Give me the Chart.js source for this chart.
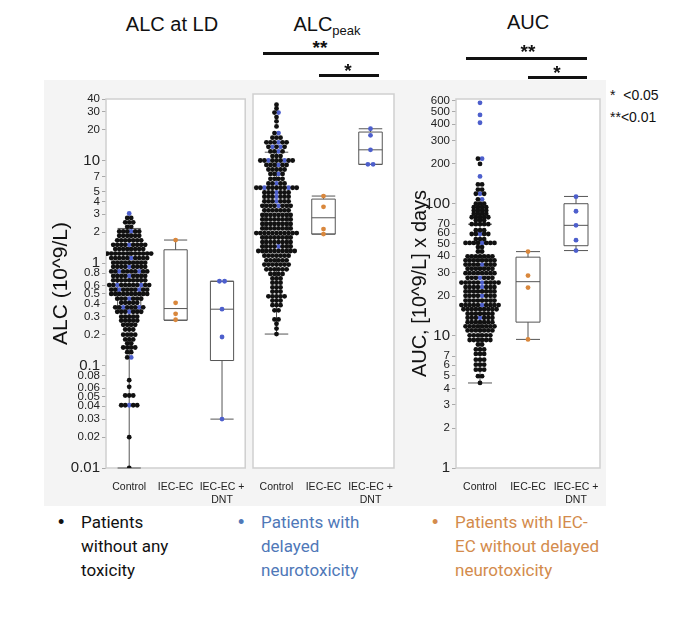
<!DOCTYPE html>
<html>
<head>
<meta charset="utf-8">
<script src="https://cdn.jsdelivr.net/npm/chart.js@4.4.0/dist/chart.umd.min.js"></script>
<style>
  body { margin: 0; width: 680px; height: 625px; position: relative; overflow: hidden; background: #fff;
         font-family: 'Liberation Sans', Arial, sans-serif; color: #111; }
  .abs { position: absolute; }
  #bg { left: 44px; top: 80px; width: 562px; height: 426px; background: #f4f4f4; }
  canvas { position: absolute; }
  .title { font-size: 20px; line-height: 22px; transform: translateX(-50%); white-space: nowrap; }
  .title sub { font-size: 13px; vertical-align: -4px; }
  .bar { height: 3px; background: #111; }
  .star { font-size: 19px; line-height: 18px; font-weight: bold; transform: translateX(-50%); }
  .sig { font-size: 14px; line-height: 18px; white-space: pre; }
  .legend { font-family: Roboto, sans-serif; font-size: 17px; line-height: 24px; }
  .dot { font-size: 18px; line-height: 24px; }
</style>
</head>
<body>
<div id="bg" class="abs"></div>
<canvas id="ld" width="210" height="420" style="left:40px;top:88px"></canvas>
<canvas id="peak" width="150" height="420" style="left:249px;top:88px"></canvas>
<canvas id="auc" width="204" height="420" style="left:400px;top:88px"></canvas>

<div class="abs title" style="left:172px;top:13px">ALC at LD</div>
<div class="abs title" style="left:327px;top:13px">ALC<sub>peak</sub></div>
<div class="abs title" style="left:528px;top:11px">AUC</div>

<div class="abs star" style="left:320px;top:39px">**</div>
<div class="abs bar" style="left:263px;top:52px;width:116px"></div>
<div class="abs star" style="left:348px;top:62px">*</div>
<div class="abs bar" style="left:319px;top:74px;width:60px"></div>

<div class="abs star" style="left:528px;top:43px">**</div>
<div class="abs bar" style="left:466px;top:57px;width:121px"></div>
<div class="abs star" style="left:557px;top:64px">*</div>
<div class="abs bar" style="left:528px;top:76px;width:59px"></div>

<div class="abs sig" style="left:610px;top:86px">*  &lt;0.05</div>
<div class="abs sig" style="left:610px;top:108px">**&lt;0.01</div>

<div class="abs dot" style="left:58px;top:510px;color:#111">•</div>
<div class="abs legend" style="left:81px;top:510px;color:#111">Patients<br>without any<br>toxicity</div>
<div class="abs dot" style="left:238px;top:510px;color:#4f78b8">•</div>
<div class="abs legend" style="left:261px;top:510px;color:#4f78b8">Patients with<br>delayed<br>neurotoxicity</div>
<div class="abs dot" style="left:432px;top:510px;color:#d38b4c">•</div>
<div class="abs legend" style="left:455px;top:510px;color:#d38b4c">Patients with IEC-<br>EC without delayed<br>neurotoxicity</div>

<script>
// categories and tick labels
const CATEGORIES = ['Control', 'IEC-EC', ['IEC-EC +', 'DNT']];
const ALC_TICKS = [40, 30, 20, 10, 7, 5, 4, 3, 2, 1, 0.8, 0.6, 0.5, 0.4, 0.3, 0.2,
                   0.1, 0.08, 0.06, 0.05, 0.04, 0.03, 0.02, 0.01];
const AUC_TICKS = [600, 500, 400, 300, 200, 100, 70, 60, 50, 40, 30, 20, 10, 7, 6, 5, 4, 3, 2, 1];
const BIG_TICKS = [100, 10, 1, 0.1, 0.01];

// ALC at LD, control group: row value, black dots, blue dots
const LD_ROWS  = [3.05, 2.76, 2.5, 2.26, 2.04, 1.85, 1.67, 1.51, 1.37, 1.24, 1.12, 1.01, 0.92, 0.83,
                  0.75, 0.68, 0.61, 0.55, 0.5, 0.45, 0.41, 0.37, 0.335, 0.3, 0.275, 0.25, 0.225, 0.2,
                  0.18, 0.165, 0.15, 0.135, 0.12, 0.072, 0.062, 0.051, 0.041, 0.02, 0.01];
const LD_BLACK = [0, 2, 3, 2, 5, 6, 7, 8, 8, 12, 9, 9, 8, 8,
                  8, 9, 9, 8, 10, 6, 5, 6, 6, 5, 5, 4, 3, 4,
                  3, 2, 4, 2, 1, 1, 1, 3, 4, 1, 1];
const LD_BLUE  = [1, 0, 0, 0, 1, 0, 0, 1, 0, 0, 1, 0, 1, 2,
                  1, 0, 2, 2, 0, 1, 0, 2, 1, 0, 0, 0, 0, 0,
                  0, 0, 0, 0, 1, 0, 0, 0, 1, 0, 0];
const LD_IEC = [1.68, 0.41, 0.32, 0.28];
const LD_DNT = [0.665, 0.665, 0.355, 0.19, 0.03];
// box stats: min, q1, median, q3, max
const LD_BOX_CTRL = [0.01, 0.35, 0.62, 1.0, 2.18];
const LD_BOX_IEC  = [0.277, 0.277, 0.36, 1.35, 1.68];
const LD_BOX_DNT  = [0.03, 0.112, 0.355, 0.665, 0.665];

// ALC peak
const PEAK_ROWS  = [31.6, 29, 26.5, 24, 21.8, 19.5, 16.8, 15.2, 13.7, 12.4, 11.2, 10.1, 9.15, 8.3,
                    7.5, 6.8, 6.1, 5.5, 5.0, 4.5, 4.1, 3.7, 3.35, 3.03, 2.74, 2.48, 2.24, 2.03,
                    1.83, 1.66, 1.5, 1.36, 1.23, 1.11, 1.0, 0.91, 0.82, 0.74, 0.67, 0.61, 0.55,
                    0.5, 0.45, 0.41, 0.37, 0.33, 0.27, 0.245, 0.22, 0.195];
const PEAK_BLACK = [1, 1, 1, 1, 1, 1, 1, 3, 5, 3, 3, 3, 7, 5,
                    5, 3, 4, 4, 9, 6, 6, 6, 7, 7, 8, 8, 8, 8,
                    11, 8, 8, 7, 10, 7, 6, 7, 6, 4, 3, 3, 3,
                    3, 5, 3, 3, 2, 2, 1, 1, 1];
const PEAK_BLUE  = [0, 0, 1, 0, 0, 0, 1, 0, 1, 2, 1, 0, 2, 1,
                    0, 1, 0, 1, 2, 1, 1, 1, 1, 0, 0, 0, 0, 0,
                    0, 0, 0, 1, 0, 0, 0, 0, 0, 0, 0, 0, 0,
                    0, 0, 0, 0, 0, 0, 0, 0, 0];
const PEAK_IEC = [4.16, 3.28, 2.0, 1.79];
const PEAK_DNT = [18.5, 16, 11.6, 8.4, 8.4];
const PEAK_BOX_CTRL = [0.195, 1.1, 2.3, 5.0, 11];
const PEAK_BOX_IEC  = [1.79, 1.79, 2.57, 3.89, 4.16];
const PEAK_BOX_DNT  = [8.4, 8.4, 11.6, 17.2, 18.5];

// AUC
const AUC_ROWS  = [580, 470, 410, 219, 200, 161, 140, 128, 119, 108, 100, 94, 89, 84, 79, 75, 70,
                   63, 59, 54, 50.5, 47, 43.5, 40, 37.3, 34.6, 32.2, 29.8, 27.5, 25.3, 23.4, 21.7,
                   20.1, 18.5, 17.1, 15.9, 14.7, 13.7, 12.7, 11.8, 11.0, 10.1, 9.3, 8.6, 7.9, 7.3,
                   6.6, 6.05, 5.55, 4.95, 4.4];
const AUC_BLACK = [0, 0, 0, 1, 1, 0, 2, 2, 2, 1, 3, 4, 4, 4, 5, 3, 5,
                   3, 4, 3, 7, 2, 2, 7, 8, 7, 7, 8, 6, 9, 7, 8,
                   7, 8, 9, 9, 7, 6, 7, 8, 7, 6, 6, 2, 3, 3,
                   3, 3, 3, 2, 1];
const AUC_BLUE  = [1, 1, 1, 1, 0, 1, 0, 0, 1, 1, 0, 0, 0, 0, 0, 0, 0,
                   0, 1, 0, 1, 0, 0, 0, 0, 1, 0, 0, 1, 1, 1, 0,
                   1, 0, 1, 0, 0, 1, 0, 0, 0, 0, 0, 0, 0, 0,
                   0, 0, 0, 0, 0];
const AUC_IEC = [43.4, 28.6, 23.2, 9.4];
const AUC_DNT = [113, 87.7, 68.6, 53, 44.2];
const AUC_BOX_CTRL = [4.4, 14.5, 22, 39, 70];
const AUC_BOX_IEC  = [9.4, 12.7, 25.7, 39.4, 43.4];
const AUC_BOX_DNT  = [44.2, 48.1, 68.6, 100, 113.5];

const BLACK = '#111111';
const BLUE = '#4d5fcc';
const ORANGE = '#d9873c';
const DOT_STEP = 0.086;   // horizontal spacing of swarm dots, in category units
const FONT = "'Liberation Sans', Arial, sans-serif";

// rows of dots centred on a category, blue ones spread through the row
function swarmRows(rows, black, blue, cat) {
  const blk = [], blu = [];
  rows.forEach((v, r) => {
    const n = black[r] + blue[r];
    const blueIdx = new Set();
    for (let j = 0; j < blue[r]; j++) blueIdx.add(Math.floor((j + 0.5) * n / blue[r]));
    for (let i = 0; i < n; i++) {
      const p = { x: cat + (i - (n - 1) / 2) * DOT_STEP, y: v };
      (blueIdx.has(i) ? blu : blk).push(p);
    }
  });
  return { blk, blu };
}

// small group: equal values sit side by side
function swarmGroup(values, cat) {
  const counts = {};
  values.forEach(v => { counts[v] = (counts[v] || 0) + 1; });
  const pts = [];
  Object.keys(counts).forEach(k => {
    const n = counts[k];
    for (let i = 0; i < n; i++) pts.push({ x: cat + (i - (n - 1) / 2) * DOT_STEP * 1.3, y: +k });
  });
  return pts;
}

const boxPlugin = {
  id: 'boxes',
  beforeDraw(chart) {
    const { ctx, chartArea: a } = chart;
    ctx.save();
    ctx.fillStyle = '#ffffff';
    ctx.fillRect(a.left, a.top, a.width, a.height);
    ctx.restore();
  },
  beforeDatasetsDraw(chart, args, opts) {
    const { ctx, chartArea: a, scales: { x, y } } = chart;
    ctx.save();
    ctx.strokeStyle = '#cfcfcf';
    ctx.lineWidth = 1.5;
    ctx.strokeRect(a.left, a.top, a.width, a.height);
    ctx.strokeStyle = '#555';
    ctx.lineWidth = 1;
    opts.stats.forEach((s, i) => {
      const l = x.getPixelForValue(i - 0.25), r = x.getPixelForValue(i + 0.25), c = x.getPixelForValue(i);
      const [lo, q1, med, q3, hi] = s.map(v => y.getPixelForValue(v));
      ctx.beginPath();
      ctx.rect(l, q3, r - l, q1 - q3);
      ctx.moveTo(l, med); ctx.lineTo(r, med);
      ctx.moveTo(c, q3); ctx.lineTo(c, hi);
      ctx.moveTo(c, q1); ctx.lineTo(c, lo);
      ctx.moveTo(l, hi); ctx.lineTo(r, hi);
      ctx.moveTo(l, lo); ctx.lineTo(r, lo);
      ctx.stroke();
    });
    ctx.restore();
  }
};

function makePanel(id, cfg) {
  const ctrl = swarmRows(cfg.rows, cfg.black, cfg.blue, 0);
  const dot = (data, color) => ({ data, backgroundColor: color, borderWidth: 0, pointRadius: 2.4 });
  return new Chart(document.getElementById(id), {
    type: 'scatter',
    data: {
      datasets: [
        dot(ctrl.blk, BLACK),
        dot(ctrl.blu, BLUE),
        dot(swarmGroup(cfg.iec, 1), ORANGE),
        dot(swarmGroup(cfg.dnt, 2), BLUE)
      ]
    },
    options: {
      responsive: false,
      animation: false,
      layout: { padding: cfg.padding },
      plugins: { legend: { display: false }, tooltip: { enabled: false }, boxes: { stats: cfg.boxes } },
      scales: {
        x: {
          type: 'linear', min: -0.5, max: 2.5,
          afterBuildTicks: s => { s.ticks = [0, 1, 2].map(v => ({ value: v })); },
          afterFit: s => { s.height = 40; },
          grid: { display: false },
          border: { display: false },
          ticks: {
            autoSkip: false, maxRotation: 0, padding: 5, color: '#222',
            font: { family: FONT, size: 10.5 },
            callback: v => CATEGORIES[Math.round(v)]
          }
        },
        y: {
          type: 'logarithmic', min: cfg.min, max: cfg.max, bounds: 'data',
          display: cfg.yTitle !== null,
          afterBuildTicks: s => { s.ticks = cfg.ticks.map(v => ({ value: v })); },
          afterFit: s => { s.width = cfg.yWidth; },
          grid: { drawOnChartArea: false, tickLength: 4, color: '#aaa' },
          border: { display: false },
          ticks: {
            autoSkip: false, padding: 2, color: '#222',
            font: c => ({ family: FONT, size: c.tick && BIG_TICKS.includes(c.tick.value) ? 15 : 11.5 }),
            callback: v => String(v)
          },
          title: {
            display: cfg.yTitle !== null, text: cfg.yTitle || '', color: '#111',
            font: { family: FONT, size: cfg.titleSize }, padding: { top: 4, bottom: 0 }
          }
        }
      }
    },
    plugins: [boxPlugin]
  });
}

makePanel('ld', {
  rows: LD_ROWS, black: LD_BLACK, blue: LD_BLUE, iec: LD_IEC, dnt: LD_DNT,
  boxes: [LD_BOX_CTRL, LD_BOX_IEC, LD_BOX_DNT],
  min: 0.01, max: 40, ticks: ALC_TICKS, yTitle: 'ALC (10^9/L)', titleSize: 21, yWidth: 61,
  padding: { left: 5, right: 2, top: 6, bottom: 0 }
});
makePanel('peak', {
  rows: PEAK_ROWS, black: PEAK_BLACK, blue: PEAK_BLUE, iec: PEAK_IEC, dnt: PEAK_DNT,
  boxes: [PEAK_BOX_CTRL, PEAK_BOX_IEC, PEAK_BOX_DNT],
  min: 0.01, max: 40, ticks: ALC_TICKS, yTitle: null, titleSize: 21, yWidth: 0,
  padding: { left: 4, right: 5, top: 6, bottom: 0 }
});
makePanel('auc', {
  rows: AUC_ROWS, black: AUC_BLACK, blue: AUC_BLUE, iec: AUC_IEC, dnt: AUC_DNT,
  boxes: [AUC_BOX_CTRL, AUC_BOX_IEC, AUC_BOX_DNT],
  min: 1, max: 620, ticks: AUC_TICKS, yTitle: 'AUC, [10^9/L] x days', titleSize: 20, yWidth: 52,
  padding: { left: 4, right: 3, top: 6, bottom: 0 }
});
</script>
</body>
</html>
